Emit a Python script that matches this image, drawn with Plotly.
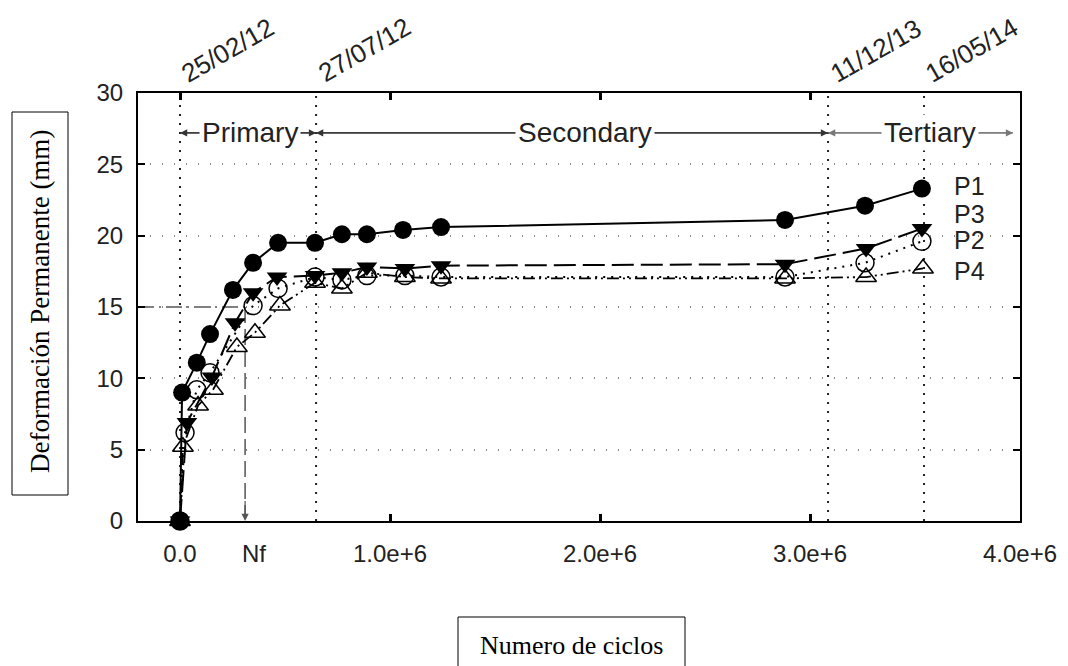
import plotly.graph_objects as go

# ---------------- data ----------------
x_P1 = [0, 0.010e6, 0.080e6, 0.143e6, 0.252e6, 0.348e6, 0.467e6, 0.643e6, 0.771e6, 0.890e6, 1.062e6, 1.243e6, 2.881e6, 3.262e6, 3.533e6]
y_P1 = [0, 9.0, 11.1, 13.1, 16.2, 18.1, 19.5, 19.5, 20.1, 20.1, 20.4, 20.6, 21.1, 22.1, 23.3]

x_P3 = [0, 0.033e6, 0.152e6, 0.262e6, 0.348e6, 0.462e6, 0.643e6, 0.771e6, 0.890e6, 1.071e6, 1.243e6, 2.881e6, 3.267e6, 3.533e6]
y_P3 = [0, 6.9, 10.1, 13.9, 16.0, 17.1, 17.2, 17.4, 17.8, 17.7, 17.9, 18.0, 19.1, 20.5]

x_P2 = [0, 0.024e6, 0.080e6, 0.143e6, 0.348e6, 0.467e6, 0.643e6, 0.771e6, 0.890e6, 1.071e6, 1.243e6, 2.881e6, 3.262e6, 3.533e6]
y_P2 = [0, 6.2, 9.2, 10.4, 15.1, 16.3, 17.1, 16.9, 17.2, 17.2, 17.1, 17.1, 18.1, 19.6]

x_P4 = [0, 0.014e6, 0.086e6, 0.157e6, 0.271e6, 0.357e6, 0.476e6, 0.643e6, 0.771e6, 0.890e6, 1.071e6, 1.243e6, 2.881e6, 3.267e6, 3.538e6]
y_P4 = [0, 5.2, 8.1, 9.2, 12.2, 13.2, 15.1, 16.7, 16.3, 17.4, 17.1, 17.0, 17.0, 17.1, 17.7]

series_names = ["P1", "P3", "P2", "P4"]
label_y = [23.5, 21.5, 19.7, 17.5]

date_x = [0, 0.648e6, 3.086e6, 3.543e6]
date_labels = ["25/02/12", "27/07/12", "11/12/13", "16/05/14"]

phase_names = ["Primary", "Secondary", "Tertiary"]
phase_bounds = [(0, 0.648e6), (0.648e6, 3.086e6), (3.086e6, 3.967e6)]
phase_text_x = [0.333e6, 1.93e6, 3.57e6]

x_tickvals = [0, 1e6, 2e6, 3e6, 4e6]
x_ticktext = ["0.0", "1.0e+6", "2.0e+6", "3.0e+6", "4.0e+6"]
nf_x = 0.31e6
nf_y = 15

# ---------------- figure ----------------
W, H = 1068, 666
L, R, T, B = 138, 48, 93, 145
PW, PH = W - L - R, H - T - B


def px(xp):
    return (xp - L) / PW


def py(yp):
    return (H - B - yp) / PH


SANS = "Liberation Sans, Arial"
SERIF = "Liberation Serif, Times New Roman"

fig = go.Figure()

styles = [
    dict(line=dict(color="black", width=2, dash="solid"),
         marker=dict(symbol="circle", size=18, color="black")),
    dict(line=dict(color="black", width=2, dash="22px,7px"),
         marker=dict(symbol="triangle-down", size=18, color="black")),
    dict(line=dict(color="black", width=2, dash="2px,6px"),
         marker=dict(symbol="circle-open", size=18, color="black", line=dict(width=1.5))),
    dict(line=dict(color="black", width=1.8, dash="12px,4px,2px,4px,2px,4px"),
         marker=dict(symbol="triangle-up-open", size=18, color="black", line=dict(width=1.5))),
]
data = [(x_P1, y_P1), (x_P3, y_P3), (x_P2, y_P2), (x_P4, y_P4)]
for (xs, ys), name, st in zip(data, series_names, styles):
    fig.add_trace(go.Scatter(x=xs, y=ys, mode="lines+markers", name=name,
                             line=st["line"], marker=st["marker"], showlegend=False,
                             cliponaxis=False))

shapes = []
for dx in date_x:
    shapes.append(dict(type="line", xref="x", yref="paper", x0=dx, x1=dx, y0=0, y1=1,
                       line=dict(color="#222", width=2, dash="2px,7px"), layer="below"))
shapes.append(dict(type="line", xref="x", yref="y", x0=-0.2e6, x1=nf_x, y0=nf_y, y1=nf_y,
                   line=dict(color="#555", width=1.5, dash="16px,5px,2px,5px"), layer="below"))
shapes.append(dict(type="line", xref="x", yref="y", x0=nf_x, x1=nf_x, y0=nf_y, y1=0.3,
                   line=dict(color="#555", width=1.5, dash="16px,6px"), layer="below"))
phase_y = 27.2
for (a, b), pc in zip(phase_bounds, ["#333", "#333", "#777"]):
    shapes.append(dict(type="line", xref="x", yref="y", x0=a, x1=b, y0=phase_y, y1=phase_y,
                       line=dict(color=pc, width=1.2)))
shapes.append(dict(type="rect", xref="paper", yref="paper", x0=px(12), x1=px(68), y0=py(495), y1=py(112),
                   line=dict(color="black", width=1)))
shapes.append(dict(type="rect", xref="paper", yref="paper", x0=px(458), x1=px(685), y0=py(690), y1=py(617),
                   line=dict(color="black", width=1)))

ann = []
tick_font = dict(family=SANS, size=24, color="#222")
for dx, dl in zip(date_x, date_labels):
    ann.append(dict(x=dx, y=1, xref="x", yref="paper", text=dl, showarrow=False,
                    textangle=-30, xanchor="left", yanchor="bottom", yshift=2, xshift=-6,
                    font=dict(family=SANS, size=26, color="#222")))
for (a, b), name, tx, pc in zip(phase_bounds, phase_names, phase_text_x, ["#333", "#333", "#777"]):
    for end in (a, b):
        ann.append(dict(x=end, y=phase_y, xref="x", yref="y", ax=tx, ay=phase_y,
                        axref="x", ayref="y", text="", showarrow=True, arrowhead=2,
                        arrowsize=1.2, arrowwidth=1.2, arrowcolor=pc, standoff=0))
for name, tx in zip(phase_names, phase_text_x):
    ann.append(dict(x=tx, y=phase_y, xref="x", yref="y", text=name, showarrow=False,
                    bgcolor="white", borderpad=2,
                    font=dict(family=SANS, size=28, color="#222")))
ann.append(dict(x=nf_x, y=0, xref="x", yref="y", ax=nf_x, ay=1.5, axref="x", ayref="y",
                text="", showarrow=True, arrowhead=2, arrowsize=1.2, arrowwidth=1.2,
                arrowcolor="#555", standoff=0))
ann.append(dict(x=nf_x, y=0, xref="x", yref="y", text="Nf", showarrow=False,
                yanchor="top", yshift=-17, xshift=9, font=tick_font))
for name, ly in zip(series_names, label_y):
    ann.append(dict(x=3.676e6, y=ly, xref="x", yref="y", text=name, showarrow=False,
                    xanchor="left", font=dict(family=SANS, size=25, color="#222")))
ann.append(dict(x=px(40), y=py(302), xref="paper", yref="paper", text="Deformación Permanente (mm)",
                showarrow=False, textangle=-90, xanchor="center", yanchor="middle",
                font=dict(family=SERIF, size=27, color="black")))
ann.append(dict(x=px(571), y=py(645), xref="paper", yref="paper", text="Numero de ciclos",
                showarrow=False, xanchor="center", yanchor="middle",
                font=dict(family=SERIF, size=26, color="black")))

fig.update_layout(
    width=W, height=H,
    margin=dict(l=L, r=R, t=T, b=B),
    paper_bgcolor="white", plot_bgcolor="white",
    shapes=shapes, annotations=ann,
    xaxis=dict(range=[-0.2e6, 4.0e6], tickvals=x_tickvals, ticktext=x_ticktext,
               showgrid=False, zeroline=False, showline=True, linecolor="black", linewidth=2,
               mirror="allticks", ticks="inside", ticklen=7, tickwidth=3, tickcolor="black",
               tickfont=tick_font, ticklabelstandoff=10),
    yaxis=dict(range=[0, 30], dtick=5, showgrid=True, gridcolor="#888", griddash="1px,11px", gridwidth=1.5,
               zeroline=False, showline=True, linecolor="black", linewidth=2,
               mirror="allticks", ticks="inside", ticklen=7, tickwidth=2, tickcolor="black",
               tickfont=tick_font, ticklabelstandoff=8),
)

fig.write_html("out.html")
